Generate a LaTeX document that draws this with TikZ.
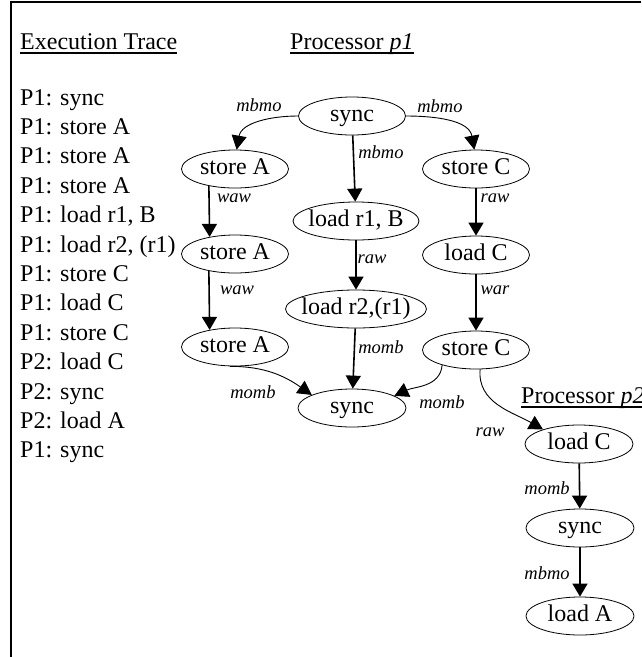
\documentclass[tikz,border=0pt]{standalone}
\usepackage{fontspec}
\setmainfont{Liberation Serif}
\usetikzlibrary{arrows.meta,shapes.geometric}
% node text is boxed at zero width so every ellipse keeps its set size
\newcommand\optext[1]{\makebox[0pt]{#1}}
\begin{document}
\begin{tikzpicture}[x=1pt,y=1pt,
  op/.style={draw, ellipse, line width=0.8pt, inner sep=0pt,
    minimum height=38pt, minimum width=107pt,
    text height=16pt, text depth=5pt,
    font=\fontsize{24}{24}\selectfont},
  traceline/.style={anchor=base west, inner sep=0pt, font=\fontsize{24}{24}\selectfont},
  heading/.style={anchor=base west, inner sep=0pt, font=\fontsize{24}{24}\selectfont},
  dep/.style={inner sep=0pt, font=\fontsize{18.5}{18.5}\selectfont\itshape},
  flow/.style={-{Triangle[length=13pt,width=15pt]}, line width=1.6pt},
  curved/.style={-{Triangle[length=14pt,width=15pt]}, line width=0.9pt},
  uline/.style={line width=1.3pt},
]
\useasboundingbox (0,0) rectangle (641,-657);
\fill[white] (0,0) rectangle (641,-657);
% frame
\draw[line width=2.5pt] (11,-657) -- (11,-2) -- (641,-2);

% headings
\node[heading] (hTrace) at (20,-49) {Execution Trace};
\node[heading] (hP1) at (290,-49) {Processor \textit{p1}};
\node[heading] (hP2) at (521,-403) {Processor \textit{p2}};
\foreach \h in {hTrace,hP1,hP2}
  \draw[uline] ([yshift=-4pt]\h.base west) -- ([yshift=-4pt]\h.base east);

% execution trace
\node[traceline] (t0)  at (20,-105.0) {P1: sync};
\node[traceline] (t1)  at (20,-134.4) {P1: store A};
\node[traceline] (t2)  at (20,-163.8) {P1: store A};
\node[traceline] (t3)  at (20,-193.2) {P1: store A};
\node[traceline] (t4)  at (20,-222.6) {P1: load r1, B};
\node[traceline] (t5)  at (20,-252.0) {P1: load r2, (r1)};
\node[traceline] (t6)  at (20,-281.4) {P1: store C};
\node[traceline] (t7)  at (20,-310.8) {P1: load C};
\node[traceline] (t8)  at (20,-340.2) {P1: store C};
\node[traceline] (t9)  at (20,-369.6) {P2: load C};
\node[traceline] (t10) at (20,-399.0) {P2: sync};
\node[traceline] (t11) at (20,-428.4) {P2: load A};
\node[traceline] (t12) at (20,-457.8) {P1: sync};

% processor p1
\node[op] (syA) at (352,-116) {\optext{sync}};
\node[op] (sA1) at (235,-169) {\optext{store A}};
\node[op] (sC1) at (476,-169) {\optext{store C}};
\node[op, minimum width=126pt] (ld1) at (356,-221) {\optext{load r1, B}};
\node[op] (sA2) at (235,-254) {\optext{store A}};
\node[op] (lC1) at (476,-255) {\optext{load C}};
\node[op, minimum width=141pt] (ld2) at (356,-309) {\optext{load r2,(r1)}};
\node[op] (sA3) at (235,-347) {\optext{store A}};
\node[op] (sC2) at (476,-350) {\optext{store C}};
\node[op, minimum width=108pt] (syB) at (352,-408) {\optext{sync}};

% processor p2
\node[op, minimum width=108pt] (lC2) at (579,-444) {\optext{load C}};
\node[op, minimum width=108pt] (syC) at (580,-528) {\optext{sync}};
\node[op, minimum width=108pt] (lA)  at (580,-616) {\optext{load A}};

% dependences inside p1
\draw[curved] (syA.west) to[out=180,in=80] (sA1.85);
\draw[curved] (syA.east) to[out=0,in=100] (sC1.95);
\draw[flow] (syA) -- (ld1);
\draw[flow] (sA1.213.9) -- (sA2.146.1);
\draw[flow] (sA2.213.9) -- (sA3.146.1);
\draw[flow] (ld1) -- (ld2);
\draw[flow] (ld2) -- (syB);
\draw[flow] (sC1) -- (lC1);
\draw[flow] (lC1) -- (sC2);
\draw[curved] (sA3.255) to[out=0,in=145] (syB.162);
\draw[curved] (sC2.204) to[out=-95,in=25] (syB.16);

% dependence across processors
\draw[curved] (sC2.282) to[out=-95,in=150] (lC2.158);

% dependences inside p2
\draw[flow] (lC2) -- (syC);
\draw[flow] (syC) -- (lA);

% dependence labels
\node[dep] (d1)  at (259,-105) {mbmo};
\node[dep] (d2)  at (440,-106) {mbmo};
\node[dep] (d3)  at (381,-152) {mbmo};
\node[dep] (d4)  at (234,-198) {waw};
\node[dep] (d5)  at (495,-198) {raw};
\node[dep] (d6)  at (372,-259) {raw};
\node[dep] (d7)  at (237,-290) {waw};
\node[dep] (d8)  at (495,-290) {war};
\node[dep] (d9)  at (381,-347) {momb};
\node[dep] (d10) at (253,-392) {momb};
\node[dep] (d11) at (442,-402) {momb};
\node[dep] (d12) at (490,-432) {raw};
\node[dep] (d13) at (547,-488) {momb};
\node[dep] (d14) at (547,-573) {mbmo};
\end{tikzpicture}
\end{document}
